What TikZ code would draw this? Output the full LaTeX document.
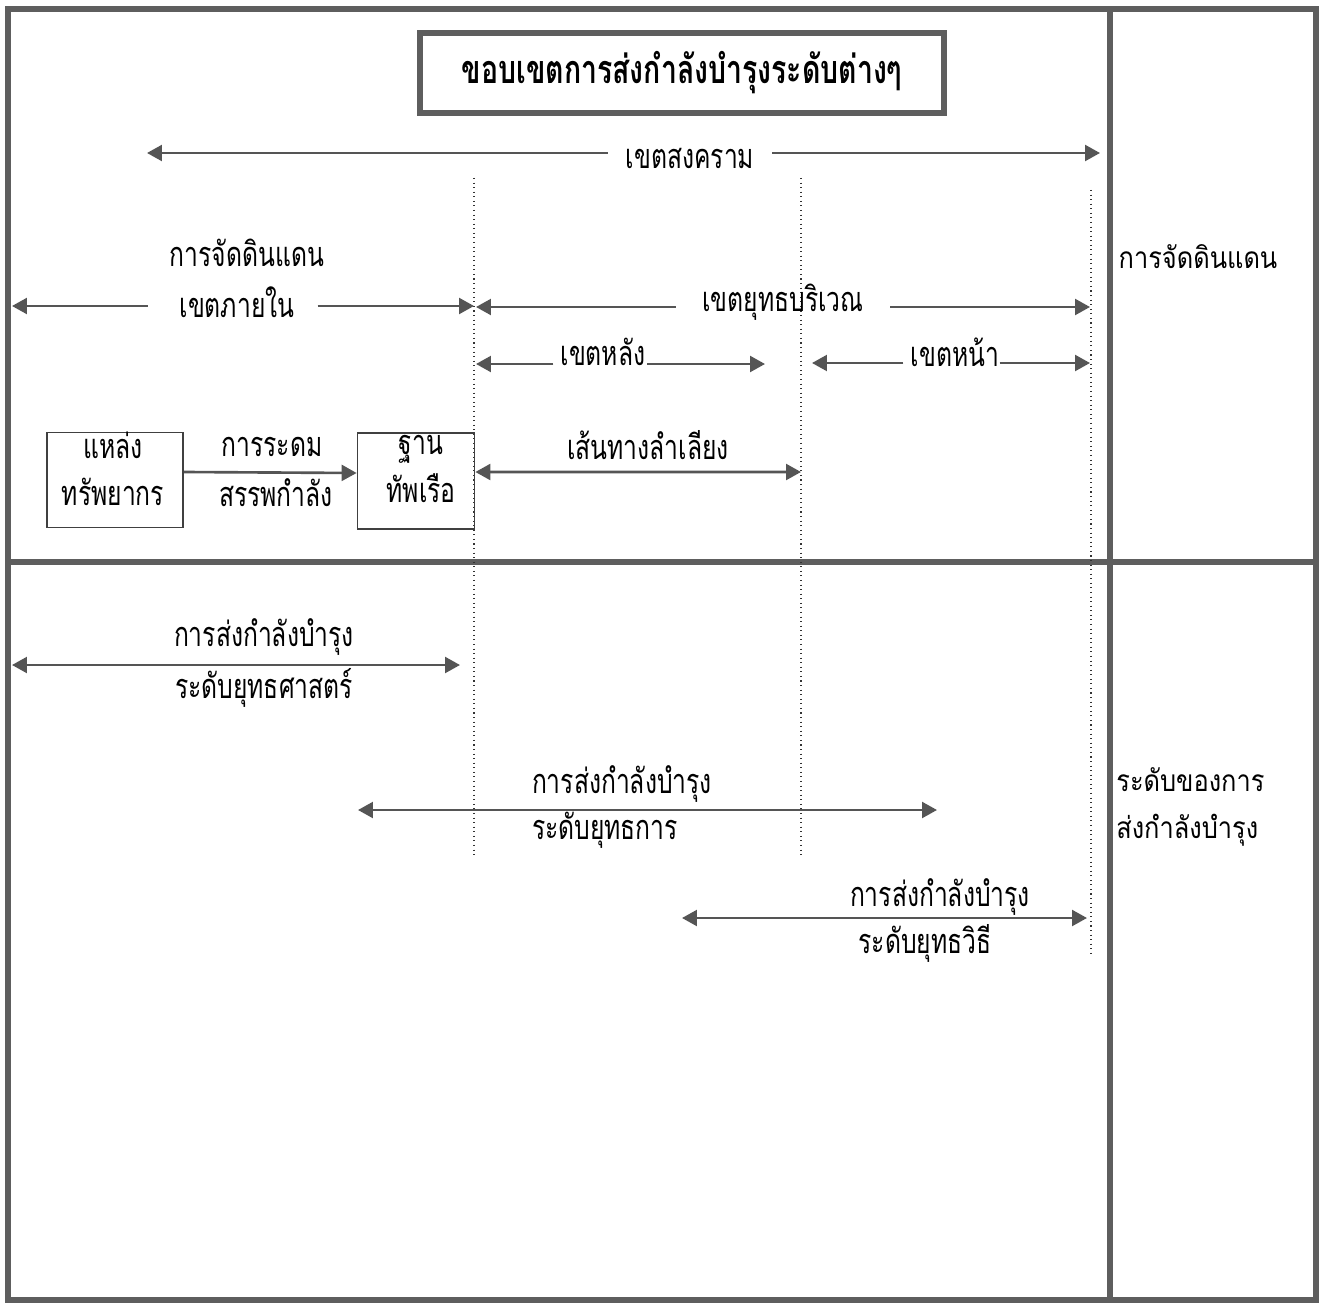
\documentclass[tikz,border=0pt]{standalone}
\usepackage{fontspec}
\usetikzlibrary{arrows.meta}
\newfontfamily\thai[Script=Thai,FakeStretch=0.72]{Loma}
\newfontfamily\thaiw[Script=Thai,FakeStretch=0.85]{Loma}
\definecolor{lg}{HTML}{555555}
\definecolor{fr}{HTML}{5E5E5E}
\begin{document}
\begin{tikzpicture}[x=0.02cm,y=-0.02cm,
  font=\thai\fontsize{19.5}{27}\selectfont,
  tip/.tip={Triangle[length=8.5pt,width=9pt]},
  arr/.style={draw=lg, line width=1.5pt, -tip},
  darr/.style={draw=lg, line width=1.5pt, tip-tip},
  frame/.style={draw=fr, line width=3.2pt},
  vdot/.style={draw=black!80, dotted, line width=0.6pt},
  lbl/.style={inner sep=0pt},
  side/.style={inner sep=0pt, font=\thaiw\fontsize{17}{27}\selectfont},
  box/.style={draw=black!75, line width=1pt, align=center, inner sep=0pt}
]
\useasboundingbox (0,0) rectangle (1321,1304);
\fill[white] (0,0) rectangle (1321,1304);

% frame
\draw[frame] (8,9) rectangle (1316,1300);
\draw[frame] (1110,9) -- (1110,1300);
\draw[frame] (8,562) -- (1316,562);

% title
\node[draw=fr, line width=3pt, minimum width=524*0.02cm, minimum height=80*0.02cm,
      font=\thai\bfseries\fontsize{22.5}{24}\selectfont] (title) at (682,73) {ขอบเขตการส่งกำลังบำรุงระดับต่างๆ};

% dotted verticals
\coordinate (d1a) at (474,178); \coordinate (d1b) at (474,858);
\coordinate (d2a) at (801,178); \coordinate (d2b) at (801,858);
\coordinate (d3a) at (1091,190); \coordinate (d3b) at (1091,955);
\draw[vdot] (d1a) -- (d1b);
\draw[vdot] (d2a) -- (d2b);
\draw[vdot] (d3a) -- (d3b);

% war zone
\coordinate (ws) at (147,153); \coordinate (we) at (1100,153);
\node[lbl] (wt) at (690,158) {เขตสงคราม};
\draw[arr] ([xshift=-10pt]wt.west |- ws) -- (ws);
\draw[arr] ([xshift=10pt]wt.east |- we) -- (we);

% interior zone
\node[lbl] (ter1) at (247,253) {การจัดดินแดน};
\node[lbl] (inz) at (237,302) {เขตภายใน};
\coordinate (il) at (12,306); \coordinate (ir) at (474,306);
\draw[arr] ([xshift=-18pt]inz.west |- il) -- (il);
\draw[arr] ([xshift=13pt]inz.east |- ir) -- (ir);

% theatre
\node[lbl] (thz) at (783,302) {เขตยุทธบริเวณ};
\coordinate (tl) at (476,307); \coordinate (tr) at (1090,307);
\draw[arr] ([xshift=-15pt]thz.west |- tl) -- (tl);
\draw[arr] ([xshift=15pt]thz.east |- tr) -- (tr);

% rear
\node[lbl] (rz) at (603,352) {เขตหลัง};
\coordinate (rl) at (476,364); \coordinate (rr) at (765,364);
\draw[arr] ([xshift=-4pt]rz.west |- rl) -- (rl);
\draw[arr] ([xshift=1pt]rz.east |- rr) -- (rr);

% front
\node[lbl] (fz) at (955,352) {เขตหน้า};
\coordinate (fl) at (812,363); \coordinate (fr) at (1090,363);
\draw[arr] ([xshift=-4pt]fz.west |- fl) -- (fl);
\draw[arr] ([xshift=0pt]fz.east |- fr) -- (fr);

% boxes
\node[box, minimum width=136*0.02cm, minimum height=95*0.02cm] (src) at (115,480) {};
\node[lbl] (srct) at (113,469) [align=center] {แหล่ง\\ทรัพยากร};
\node[box, minimum width=117*0.02cm, minimum height=96*0.02cm] (base) at (416,481) {};
\node[lbl] (baset) at (421,469) [align=center] {ฐาน\\ทัพเรือ};
\draw[arr] ([yshift=0.16cm]src.east) -- ([yshift=0.16cm]base.west);
\node[lbl] (mob1) at (272,447) {การระดม};
\node[lbl] (mob2) at (276,493) {สรรพกำลัง};

% LOC
\node[lbl] (loc) at (648,445) {เส้นทางลำเลียง};
\coordinate (loce) at (801,472);
\draw[darr] ([yshift=0.18cm]base.east) -- (loce);

% right column
\node[side] (ter2) at (1198,257) {การจัดดินแดน};
\node[side, anchor=west, align=left] (lev) at (1116,807) {ระดับของการ\\ส่งกำลังบำรุง};

% strategic
\coordinate (s1) at (12,665); \coordinate (s2) at (460,665);
\draw[darr] (s1) -- (s2);
\node[lbl] (st1) at (264,637) {การส่งกำลังบำรุง};
\node[lbl] (st2) at (264,688) {ระดับยุทธศาสตร์};

% operational
\coordinate (o1) at (358,810); \coordinate (o2) at (937,810);
\draw[darr] (o1) -- (o2);
\node[lbl] (op1) at (622,784) {การส่งกำลังบำรุง};
\node[lbl] (op2) at (605,830) {ระดับยุทธการ};

% tactical
\coordinate (t1) at (682,918); \coordinate (t2) at (1087,918);
\draw[darr] (t1) -- (t2);
\node[lbl] (ta1) at (940,897) {การส่งกำลังบำรุง};
\node[lbl] (ta2) at (925,943) {ระดับยุทธวิธี};
\end{tikzpicture}
\end{document}
